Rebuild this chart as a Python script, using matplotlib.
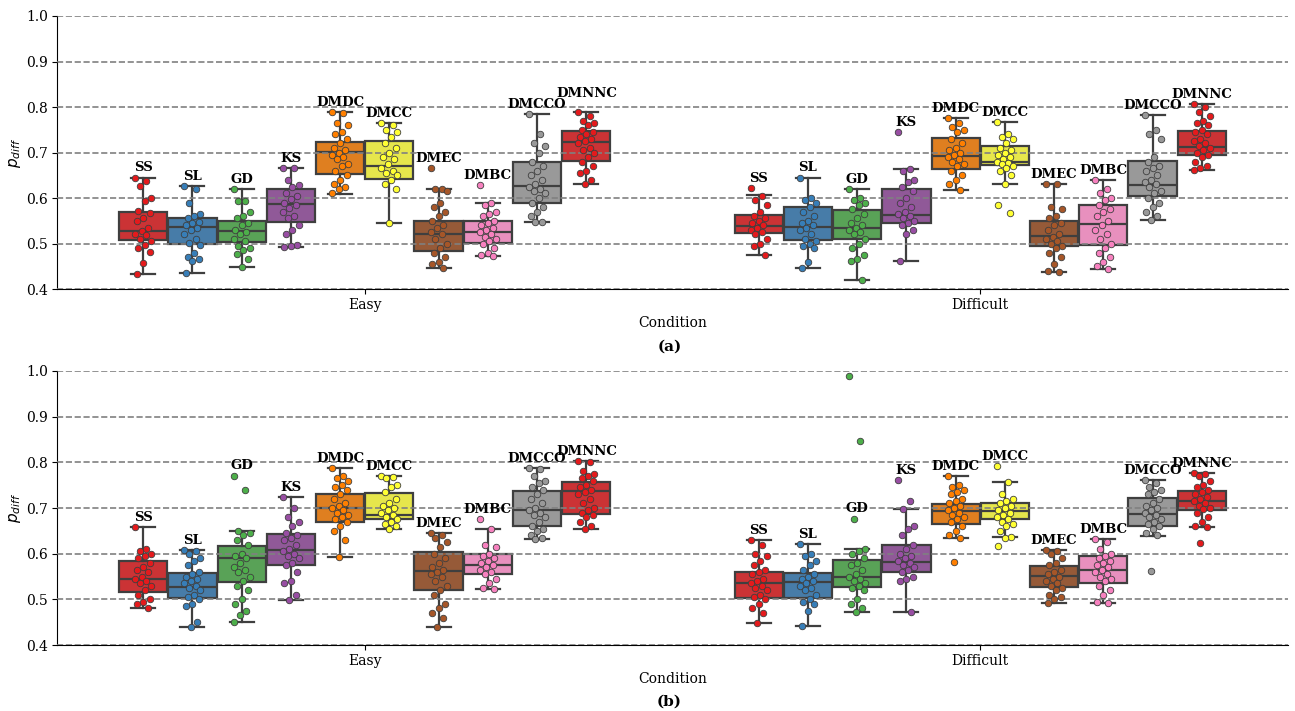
import colorsys
import matplotlib.pyplot as plt
import matplotlib.colors as mcolors
import numpy as np

plt.rcParams['font.family'] = 'DejaVu Serif'

methods = ['SS', 'SL', 'GD', 'KS', 'DMDC', 'DMCC', 'DMEC', 'DMBC', 'DMCCO', 'DMNNC']
conditions = ['Easy', 'Difficult']
set1 = ['#e41a1c', '#377eb8', '#4daf4a', '#984ea3', '#ff7f00',
        '#ffff33', '#a65628', '#f781bf', '#999999', '#e41a1c']

# box stats: whisker low, q1, median, q3, whisker high
lo_a_easy = [.434, .436, .448, .493, .608, .545, .446, .472, .547, .631]
q1_a_easy = [.508, .499, .503, .548, .653, .642, .484, .502, .588, .682]
med_a_easy = [.528, .537, .528, .587, .702, .671, .520, .526, .626, .722]
q3_a_easy = [.570, .556, .549, .620, .723, .726, .550, .550, .679, .747]
hi_a_easy = [.645, .626, .620, .666, .790, .765, .620, .588, .784, .789]

lo_a_diff = [.475, .446, .420, .461, .618, .631, .437, .445, .551, .661]
q1_a_diff = [.523, .508, .510, .545, .664, .672, .494, .497, .604, .694]
med_a_diff = [.539, .536, .535, .563, .692, .680, .517, .542, .628, .712]
q3_a_diff = [.562, .581, .573, .620, .731, .715, .550, .585, .682, .747]
hi_a_diff = [.607, .645, .620, .663, .776, .767, .631, .639, .782, .807]

lo_b_easy = [.480, .439, .450, .499, .593, .654, .440, .523, .633, .653]
q1_b_easy = [.515, .502, .537, .576, .669, .676, .521, .556, .660, .687]
med_b_easy = [.545, .528, .591, .608, .699, .685, .562, .576, .695, .738]
q3_b_easy = [.585, .558, .616, .644, .731, .733, .604, .600, .738, .757]
hi_b_easy = [.658, .607, .650, .724, .787, .769, .645, .655, .787, .802]

lo_b_diff = [.449, .442, .473, .473, .635, .636, .493, .491, .639, .658]
q1_b_diff = [.503, .504, .526, .560, .666, .676, .526, .535, .660, .696]
med_b_diff = [.535, .539, .548, .582, .693, .694, .552, .564, .686, .715]
q3_b_diff = [.560, .557, .586, .618, .708, .710, .574, .595, .722, .737]
hi_b_diff = [.629, .622, .610, .697, .769, .756, .607, .633, .762, .776]

# individual points (one list per method)
pts_a_easy = [
    [.645, .637, .627, .600, .593, .572, .567, .555, .550, .535, .528, .520, .518, .510, .505, .497, .491, .482, .458, .433],
    [.626, .619, .590, .565, .560, .555, .548, .545, .540, .535, .530, .520, .509, .502, .497, .479, .470, .465, .462, .436],
    [.620, .594, .593, .570, .560, .555, .545, .540, .530, .525, .520, .510, .505, .495, .490, .485, .476, .465, .448],
    [.666, .665, .640, .628, .625, .610, .605, .598, .590, .585, .578, .570, .560, .555, .540, .530, .520, .497, .495, .493],
    [.790, .787, .765, .760, .745, .740, .730, .720, .710, .705, .700, .695, .690, .685, .675, .670, .660, .650, .640, .630, .625, .620, .610],
    [.765, .760, .750, .745, .735, .720, .710, .700, .690, .685, .675, .665, .660, .655, .650, .640, .630, .620, .545],
    [.665, .620, .619, .615, .590, .580, .570, .560, .550, .540, .535, .525, .520, .510, .500, .490, .480, .470, .460, .455, .446],
    [.628, .588, .585, .570, .565, .560, .550, .545, .540, .535, .530, .525, .520, .515, .510, .505, .500, .490, .480, .475, .472],
    [.784, .740, .720, .715, .700, .680, .670, .660, .650, .640, .630, .625, .620, .615, .610, .600, .590, .580, .570, .560, .548, .547],
    [.789, .780, .770, .765, .760, .750, .745, .740, .735, .730, .725, .720, .710, .705, .700, .690, .680, .670, .660, .655, .640, .631],
]
pts_a_diff = [
    [.622, .605, .595, .585, .570, .560, .555, .550, .545, .540, .535, .530, .525, .520, .510, .500, .495, .475],
    [.645, .600, .595, .590, .580, .570, .560, .550, .545, .540, .535, .530, .520, .510, .505, .500, .495, .490, .460, .446],
    [.620, .600, .595, .590, .585, .575, .565, .555, .545, .540, .535, .530, .525, .520, .510, .500, .490, .475, .465, .462, .420],
    [.744, .663, .660, .640, .635, .625, .615, .600, .590, .580, .570, .565, .560, .555, .550, .545, .540, .530, .520, .461],
    [.776, .765, .755, .750, .745, .730, .720, .710, .705, .700, .695, .690, .685, .680, .675, .670, .660, .650, .640, .630, .618],
    [.767, .740, .735, .730, .720, .710, .705, .700, .695, .690, .685, .680, .678, .675, .670, .665, .660, .650, .631, .585, .568],
    [.631, .630, .580, .575, .560, .555, .545, .540, .530, .520, .515, .510, .505, .500, .495, .490, .480, .470, .455, .440, .437],
    [.639, .620, .610, .600, .595, .585, .575, .570, .560, .550, .540, .530, .520, .510, .500, .490, .480, .470, .460, .450, .445],
    [.782, .750, .740, .730, .690, .680, .670, .665, .660, .650, .640, .635, .630, .625, .615, .610, .600, .590, .580, .570, .560, .551],
    [.807, .800, .790, .780, .770, .765, .760, .750, .745, .740, .730, .725, .720, .715, .710, .705, .700, .695, .690, .680, .670, .665, .661],
]
pts_b_easy = [
    [.658, .610, .605, .600, .595, .590, .580, .570, .565, .560, .550, .545, .540, .535, .530, .520, .510, .500, .495, .490, .480],
    [.607, .605, .600, .590, .585, .575, .560, .555, .550, .545, .540, .535, .530, .525, .520, .510, .505, .500, .490, .485, .450, .439],
    [.771, .739, .650, .645, .640, .630, .620, .600, .595, .590, .580, .570, .565, .560, .550, .540, .530, .520, .500, .490, .475, .465, .450],
    [.724, .700, .680, .670, .660, .645, .640, .635, .630, .620, .610, .605, .600, .595, .590, .580, .575, .560, .540, .535, .510, .499],
    [.787, .770, .765, .760, .750, .745, .740, .730, .720, .710, .705, .700, .695, .690, .685, .680, .675, .670, .660, .650, .630, .593],
    [.769, .768, .765, .750, .745, .735, .720, .710, .705, .700, .695, .690, .685, .680, .675, .670, .665, .660, .654],
    [.645, .640, .635, .625, .615, .600, .590, .580, .570, .565, .560, .555, .550, .540, .530, .520, .510, .490, .480, .470, .460, .440],
    [.676, .655, .620, .615, .600, .595, .590, .585, .580, .575, .570, .565, .560, .555, .545, .535, .525, .523],
    [.787, .785, .770, .760, .755, .745, .740, .730, .720, .710, .700, .695, .690, .685, .680, .670, .660, .655, .650, .640, .635, .633],
    [.802, .800, .780, .775, .770, .765, .760, .750, .745, .740, .735, .730, .720, .710, .700, .695, .690, .685, .680, .670, .660, .653],
]
pts_b_diff = [
    [.629, .620, .600, .595, .585, .575, .565, .560, .555, .545, .540, .535, .530, .525, .520, .510, .505, .500, .490, .480, .470, .449],
    [.622, .600, .595, .585, .575, .565, .555, .550, .545, .540, .535, .530, .525, .520, .510, .500, .495, .490, .475, .442],
    [.989, .846, .677, .610, .605, .600, .590, .580, .575, .565, .555, .550, .545, .540, .535, .530, .525, .520, .500, .490, .480, .473],
    [.761, .715, .697, .660, .655, .640, .620, .610, .600, .595, .590, .585, .580, .575, .570, .565, .560, .550, .545, .540, .473],
    [.769, .750, .745, .740, .735, .730, .720, .715, .710, .705, .700, .695, .690, .685, .680, .675, .670, .660, .650, .640, .635, .581],
    [.791, .756, .730, .720, .715, .710, .705, .700, .695, .690, .685, .680, .675, .670, .665, .660, .650, .636, .635, .617],
    [.607, .605, .600, .590, .580, .575, .565, .560, .555, .550, .545, .540, .535, .530, .525, .520, .510, .505, .500, .493],
    [.633, .625, .610, .600, .595, .590, .585, .580, .575, .570, .565, .560, .555, .550, .545, .540, .530, .520, .510, .495, .491],
    [.762, .755, .745, .740, .735, .730, .720, .710, .705, .700, .695, .690, .685, .680, .675, .670, .665, .660, .655, .645, .640, .563],
    [.776, .775, .770, .760, .750, .745, .740, .735, .730, .725, .720, .715, .710, .705, .700, .698, .690, .680, .670, .660, .658, .623],
]


def desat(c, prop=0.75):
    r, g, b = mcolors.to_rgb(c)
    h, l, s = colorsys.rgb_to_hls(r, g, b)
    return colorsys.hls_to_rgb(h, l, s * prop)


edge = '#3f3f3f'
bw = 0.08


def draw(ax, groups, lift=None):
    lift = lift or {}
    for ci, (lo, q1, med, q3, hi, pts) in enumerate(groups):
        for mi in range(len(methods)):
            x = ci + (mi - 4.5) * bw
            st = [dict(whislo=lo[mi], q1=q1[mi], med=med[mi], q3=q3[mi], whishi=hi[mi])]
            ax.bxp(st, positions=[x], widths=bw * 0.98, patch_artist=True,
                   showfliers=False, manage_ticks=False,
                   boxprops=dict(facecolor=desat(set1[mi]), edgecolor=edge, linewidth=1.6),
                   medianprops=dict(color=edge, linewidth=1.6),
                   whiskerprops=dict(color=edge, linewidth=1.6),
                   capprops=dict(color=edge, linewidth=1.6))
            p = np.array(pts[mi])
            jit = (((np.arange(len(p)) * 7) % 11) - 5) / 5 * 0.013
            ax.scatter(x + jit, p, s=22, c=set1[mi], edgecolors=edge,
                       linewidths=0.6, zorder=4)
            # label sits above the highest non-extreme point
            iqr = q3[mi] - q1[mi]
            top = p[p <= q3[mi] + 3 * iqr].max()
            ax.text(x, top + 0.021 + lift.get((ci, mi), 0), methods[mi],
                    ha='center', va='center',
                    fontsize=9.5, fontweight='bold', zorder=5)
    ax.set_xlim(-0.5, 1.5)
    ax.set_ylim(0.4, 1.0)
    ax.set_xticks([0, 1])
    ax.set_xticklabels(conditions)
    ax.set_yticks(np.arange(0.4, 1.01, 0.1))
    ax.set_axisbelow(False)
    ax.yaxis.grid(True, linestyle='--', color='gray', linewidth=1.2)
    ax.spines['top'].set_visible(False)
    ax.spines['right'].set_visible(False)
    ax.tick_params(labelsize=10, pad=3)
    ax.set_xlabel('Condition', fontsize=10, labelpad=3)
    ax.set_ylabel('$p_{diff}$', fontsize=11, labelpad=2)


fig = plt.figure(figsize=(12.95, 7.11), dpi=100)
ax1 = fig.add_axes([0.044, 0.5935, 0.9506, 0.384])
ax2 = fig.add_axes([0.044, 0.0928, 0.9506, 0.3854])

draw(ax1, [(lo_a_easy, q1_a_easy, med_a_easy, q3_a_easy, hi_a_easy, pts_a_easy),
           (lo_a_diff, q1_a_diff, med_a_diff, q3_a_diff, hi_a_diff, pts_a_diff)],
     lift={(0, 9): 0.02})
draw(ax2, [(lo_b_easy, q1_b_easy, med_b_easy, q3_b_easy, hi_b_easy, pts_b_easy),
           (lo_b_diff, q1_b_diff, med_b_diff, q3_b_diff, hi_b_diff, pts_b_diff)])

fig.text(0.517, 1 - 347 / 711, '(a)', ha='center', va='center', fontsize=11, fontweight='bold')
fig.text(0.517, 1 - 702 / 711, '(b)', ha='center', va='center', fontsize=11, fontweight='bold')

fig.savefig('out.png', dpi=100)
